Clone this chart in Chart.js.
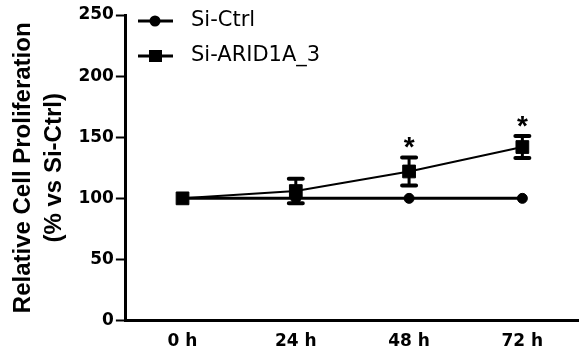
<!DOCTYPE html>
<html>
<head>
<script src="https://cdn.jsdelivr.net/npm/chart.js"></script>
<style>
  html, body { margin: 0; padding: 0; background: white; overflow: hidden; }
  #wrap { width: 579px; height: 358px; }
</style>
</head>
<body>
<div id="wrap"><canvas id="chart"></canvas></div>
<script>
const timePoints = ['0 h', '24 h', '48 h', '72 h'];
const ctrlMean = [100, 100, 100, 100];
const aridMean = [100, 106, 122, 142];
const aridSd = [0, 10, 11.5, 9];
const stars = ['', '', '*', '*'];
const seriesLabels = ['Si-Ctrl', 'Si-ARID1A_3'];

// error bars + significance marks for the knockdown series
const errorBars = {
  id: 'errorBars',
  afterDatasetsDraw(chart) {
    const ctx = chart.ctx;
    const y = chart.scales.y;
    const meta = chart.getDatasetMeta(1);
    ctx.save();
    ctx.strokeStyle = 'black';
    ctx.fillStyle = 'black';
    meta.data.forEach((pt, i) => {
      if (!aridSd[i]) return;
      const top = y.getPixelForValue(aridMean[i] + aridSd[i]);
      const bot = y.getPixelForValue(aridMean[i] - aridSd[i]);
      ctx.lineWidth = 3;
      ctx.beginPath();
      ctx.moveTo(pt.x, top); ctx.lineTo(pt.x, bot);
      ctx.stroke();
      ctx.lineWidth = 4;
      ctx.lineCap = 'round';
      ctx.beginPath();
      ctx.moveTo(pt.x - 7, top); ctx.lineTo(pt.x + 7, top);
      ctx.moveTo(pt.x - 7, bot); ctx.lineTo(pt.x + 7, bot);
      ctx.stroke();
      if (stars[i]) {
        ctx.font = 'bold 28px "Liberation Sans"';
        ctx.textAlign = 'center';
        ctx.textBaseline = 'alphabetic';
        ctx.fillText(stars[i], pt.x, top - 1);
      }
    });
    ctx.restore();
  }
};

// legend drawn at the top left of the plot
const sideLegend = {
  id: 'sideLegend',
  afterDraw(chart) {
    const ctx = chart.ctx;
    ctx.save();
    const rows = [21, 56];
    chart.data.datasets.forEach((ds, i) => {
      const yy = rows[i];
      ctx.strokeStyle = 'black';
      ctx.fillStyle = 'black';
      ctx.lineWidth = 3;
      ctx.beginPath();
      ctx.moveTo(138, yy); ctx.lineTo(173, yy);
      ctx.stroke();
      if (i === 0) {
        ctx.beginPath(); ctx.arc(155, yy, 5.5, 0, Math.PI * 2); ctx.fill();
      } else {
        ctx.fillRect(149, yy - 6, 13, 12);
      }
      ctx.font = '21px "DejaVu Sans"';
      ctx.textAlign = 'left';
      ctx.textBaseline = 'middle';
      ctx.fillText(ds.label, 191, yy);
    });
    ctx.restore();
  }
};

new Chart(document.getElementById('chart'), {
  type: 'line',
  data: {
    labels: timePoints,
    datasets: [
      {
        label: seriesLabels[0],
        data: ctrlMean,
        borderColor: 'black',
        backgroundColor: 'black',
        borderWidth: 3,
        pointStyle: 'circle',
        pointRadius: 5,
        pointBorderWidth: 1,
        tension: 0
      },
      {
        label: seriesLabels[1],
        data: aridMean,
        borderColor: 'black',
        backgroundColor: 'black',
        borderWidth: 2,
        pointStyle: 'rect',
        pointRadius: 9,
        pointBorderWidth: 1,
        tension: 0
      }
    ]
  },
  options: {
    responsive: true,
    maintainAspectRatio: false,
    animation: false,
    layout: { autoPadding: false, padding: { top: 15, right: 0, bottom: 4, left: 8 } },
    plugins: {
      legend: { display: false },
      tooltip: { enabled: false }
    },
    scales: {
      x: {
        offset: true,
        grid: { display: false, drawOnChartArea: false, drawTicks: true, tickLength: 9, tickWidth: 2, tickColor: 'black', offset: false },
        border: { color: 'black', width: 3 },
        ticks: { color: 'black', font: { family: 'DejaVu Sans', weight: 'bold', size: 17 }, padding: 2, maxRotation: 0 }
      },
      y: {
        min: 0,
        max: 250,
        grid: { drawOnChartArea: false, drawTicks: true, tickLength: 10, tickWidth: 2, tickColor: 'black' },
        border: { color: 'black', width: 3 },
        ticks: { stepSize: 50, color: 'black', font: { family: 'DejaVu Sans', weight: 'bold', size: 17 }, padding: 2 },
        title: {
          display: true,
          text: ['Relative Cell Proliferation', '(% vs Si-Ctrl)'],
          color: 'black',
          font: { family: 'Liberation Sans', weight: 'bold', size: 24, lineHeight: 1.3 },
          padding: { top: 0, bottom: 6 }
        }
      }
    }
  },
  plugins: [errorBars, sideLegend]
});
</script>
</body>
</html>
